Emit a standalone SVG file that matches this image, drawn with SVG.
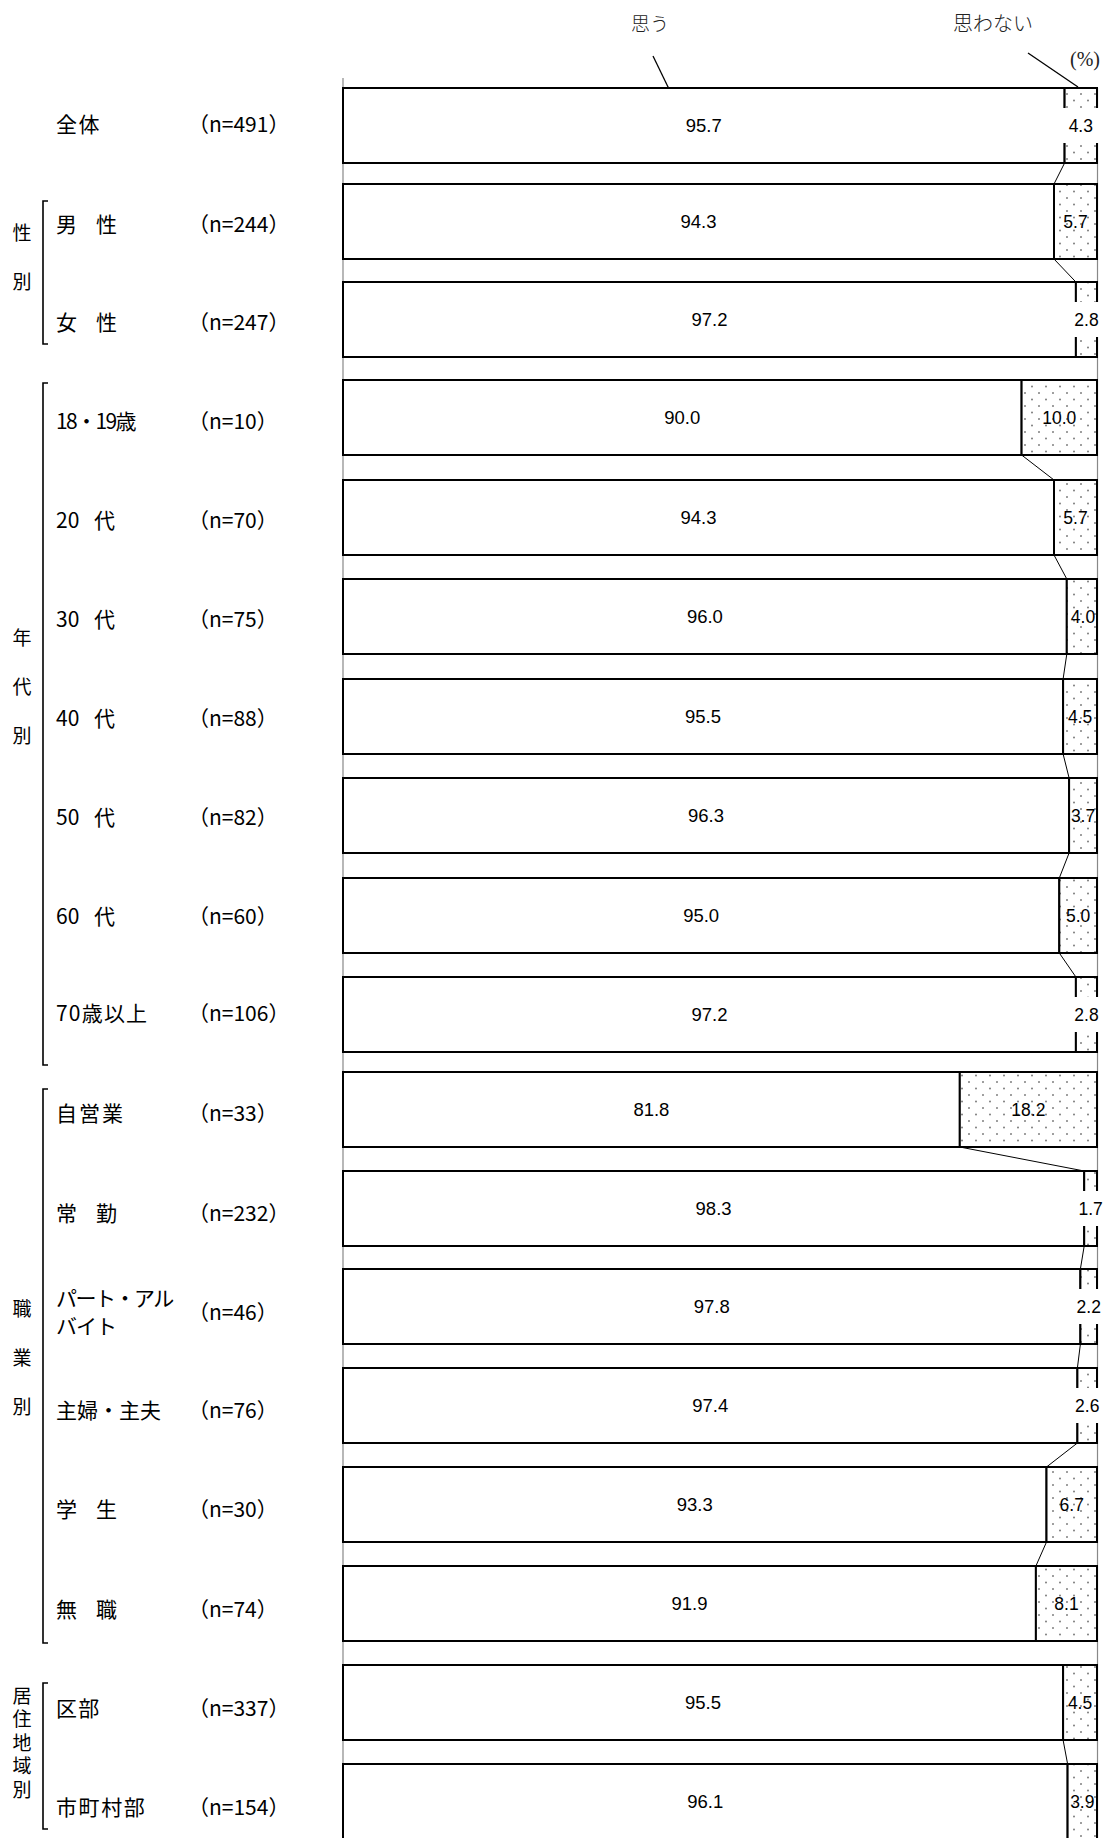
<svg xmlns="http://www.w3.org/2000/svg" width="1108" height="1838" viewBox="0 0 1108 1838">
<style>
.lab{font-family:"Noto Sans CJK JP","Noto Sans",sans-serif;font-size:21px;fill:#000}
.grp{font-family:"Noto Sans CJK JP","Noto Sans",sans-serif;font-size:19px;fill:#000;text-anchor:middle}
.hdr{font-family:"Noto Sans CJK JP","Noto Sans",sans-serif;font-weight:300;fill:#222}
.pct{font-family:"Liberation Serif","Noto Sans CJK JP",serif;font-size:20px;fill:#222}
.num{font-family:"Liberation Sans",Arial,sans-serif;font-size:18.5px;fill:#000;text-anchor:middle}
.sm{font-size:17.5px}
.bar{stroke:#000;stroke-width:2}
.agree{fill:#fff}
.dis{fill:url(#dots)}
.wb{fill:#fff}
.conn{stroke:#000;stroke-width:1;fill:none}
.brk{stroke:#000;stroke-width:1.6;fill:none}
.axis{stroke:#888;stroke-width:1.2;fill:none}
.lead{stroke:#000;stroke-width:1.3;fill:none}
</style>
<defs>
<pattern id="dots" width="14" height="13" patternUnits="userSpaceOnUse">
<rect width="14" height="13" fill="#fff"/>
<circle cx="3" cy="3" r="0.95" fill="#777"/>
<circle cx="10" cy="9.5" r="0.95" fill="#777"/>
</pattern>
</defs>
<rect width="1108" height="1838" fill="#fff"/>

<g id="header">
<text class="hdr" x="631" y="30.5" font-size="19">思う</text>
<text class="hdr" x="953" y="30.5" font-size="20">思わない</text>
<text class="pct" x="1070" y="66">(%)</text>
<line class="lead" x1="653" y1="56" x2="669" y2="89"/>
<line class="lead" x1="1028" y1="53" x2="1078" y2="87"/>
</g>

<g id="axes">
<line class="axis" x1="343" y1="78" x2="343" y2="1838"/>
<line class="axis" x1="1097.5" y1="88" x2="1097.5" y2="1838"/>
</g>

<g id="group-labels">
<text class="grp" x="22" y="240">性</text>
<text class="grp" x="22" y="289">別</text>
<text class="grp" x="22" y="645">年</text>
<text class="grp" x="22" y="694">代</text>
<text class="grp" x="22" y="743">別</text>
<text class="grp" x="22" y="1316">職</text>
<text class="grp" x="22" y="1365">業</text>
<text class="grp" x="22" y="1414">別</text>
<text x="22" y="1686" font-family="Noto Sans CJK JP, Noto Sans, sans-serif" font-size="19" writing-mode="vertical-rl" letter-spacing="4.5" fill="#000">居住地域別</text>
<path class="brk" d="M48 201 H43 V344 H48"/>
<path class="brk" d="M48 383 H43 V1065 H48"/>
<path class="brk" d="M48 1089 H43 V1643 H48"/>
<path class="brk" d="M48 1683 H43 V1829 H48"/>
</g>

<g id="connectors">
<line class="conn" x1="1064.6" y1="163" x2="1054.0" y2="184"/>
<line class="conn" x1="1054.0" y1="259" x2="1075.9" y2="282"/>
<line class="conn" x1="1021.6" y1="455" x2="1054.0" y2="480"/>
<line class="conn" x1="1054.0" y1="555" x2="1066.8" y2="579"/>
<line class="conn" x1="1066.8" y1="654" x2="1063.1" y2="679"/>
<line class="conn" x1="1063.1" y1="754" x2="1069.1" y2="778"/>
<line class="conn" x1="1069.1" y1="853" x2="1059.3" y2="878"/>
<line class="conn" x1="1059.3" y1="953" x2="1075.9" y2="977"/>
<line class="conn" x1="959.8" y1="1147" x2="1084.2" y2="1171"/>
<line class="conn" x1="1084.2" y1="1246" x2="1080.4" y2="1269"/>
<line class="conn" x1="1080.4" y1="1344" x2="1077.4" y2="1368"/>
<line class="conn" x1="1077.4" y1="1443" x2="1046.5" y2="1467"/>
<line class="conn" x1="1046.5" y1="1542" x2="1035.9" y2="1566"/>
<line class="conn" x1="1063.1" y1="1740" x2="1067.6" y2="1764"/>
</g>

<g id="row-zentai">
<rect class="bar agree" x="343" y="88" width="721.6" height="75"/>
<rect class="bar dis" x="1064.6" y="88" width="32.4" height="75"/>
<text class="lab" x="56" y="132" letter-spacing="1.5">全体</text>
<text class="lab" x="188" y="132">（n=491）</text>
<text class="num" x="703.8" y="132.1">95.7</text>
<rect class="wb" x="1062.6" y="108" width="37.4" height="35"/>
<text class="num sm" x="1080.8" y="131.8">4.3</text>
</g>

<g id="row-male">
<rect class="bar agree" x="343" y="184" width="711" height="75"/>
<rect class="bar dis" x="1054" y="184" width="43" height="75"/>
<text class="lab" x="56" y="232">男<tspan x="96">性</tspan></text>
<text class="lab" x="188" y="232">（n=244）</text>
<text class="num" x="698.5" y="228.1">94.3</text>
<text class="num sm" x="1075.5" y="227.8">5.7</text>
</g>

<g id="row-female">
<rect class="bar agree" x="343" y="282" width="732.9" height="75"/>
<rect class="bar dis" x="1075.9" y="282" width="21.1" height="75"/>
<text class="lab" x="56" y="330">女<tspan x="96">性</tspan></text>
<text class="lab" x="188" y="330">（n=247）</text>
<text class="num" x="709.45" y="326.1">97.2</text>
<rect class="wb" x="1072.4" y="302" width="27.6" height="35"/>
<text class="num sm" x="1086.45" y="325.8">2.8</text>
</g>

<g id="row-18-19">
<rect class="bar agree" x="343" y="380" width="678.6" height="75"/>
<rect class="bar dis" x="1021.6" y="380" width="75.4" height="75"/>
<text class="lab" x="56" y="429" letter-spacing="-1.6">18・19歳</text>
<text class="lab" x="188" y="429">（n=10）</text>
<text class="num" x="682.3" y="424.1">90.0</text>
<text class="num sm" x="1059.3" y="423.8">10.0</text>
</g>

<g id="row-20s">
<rect class="bar agree" x="343" y="480" width="711" height="75"/>
<rect class="bar dis" x="1054" y="480" width="43" height="75"/>
<text class="lab" x="56" y="528">20<tspan x="94">代</tspan></text>
<text class="lab" x="188" y="528">（n=70）</text>
<text class="num" x="698.5" y="524.1">94.3</text>
<text class="num sm" x="1075.5" y="523.8">5.7</text>
</g>

<g id="row-30s">
<rect class="bar agree" x="343" y="579" width="723.8" height="75"/>
<rect class="bar dis" x="1066.8" y="579" width="30.2" height="75"/>
<text class="lab" x="56" y="626.5">30<tspan x="94">代</tspan></text>
<text class="lab" x="188" y="626.5">（n=75）</text>
<text class="num" x="704.9" y="623.1">96.0</text>
<text class="num sm" x="1083" y="622.8">4.0</text>
</g>

<g id="row-40s">
<rect class="bar agree" x="343" y="679" width="720.1" height="75"/>
<rect class="bar dis" x="1063.1" y="679" width="33.9" height="75"/>
<text class="lab" x="56" y="726">40<tspan x="94">代</tspan></text>
<text class="lab" x="188" y="726">（n=88）</text>
<text class="num" x="703.05" y="723.1">95.5</text>
<text class="num sm" x="1080.05" y="722.8">4.5</text>
</g>

<g id="row-50s">
<rect class="bar agree" x="343" y="778" width="726.1" height="75"/>
<rect class="bar dis" x="1069.1" y="778" width="27.9" height="75"/>
<text class="lab" x="56" y="825">50<tspan x="94">代</tspan></text>
<text class="lab" x="188" y="825">（n=82）</text>
<text class="num" x="706.05" y="822.1">96.3</text>
<text class="num sm" x="1083.05" y="821.8">3.7</text>
</g>

<g id="row-60s">
<rect class="bar agree" x="343" y="878" width="716.3" height="75"/>
<rect class="bar dis" x="1059.3" y="878" width="37.7" height="75"/>
<text class="lab" x="56" y="923.5">60<tspan x="94">代</tspan></text>
<text class="lab" x="188" y="923.5">（n=60）</text>
<text class="num" x="701.15" y="922.1">95.0</text>
<text class="num sm" x="1078.15" y="921.8">5.0</text>
</g>

<g id="row-70plus">
<rect class="bar agree" x="343" y="977" width="732.9" height="75"/>
<rect class="bar dis" x="1075.9" y="977" width="21.1" height="75"/>
<text class="lab" x="56" y="1021" letter-spacing="1.2">70歳以上</text>
<text class="lab" x="188" y="1021">（n=106）</text>
<text class="num" x="709.45" y="1021.1">97.2</text>
<rect class="wb" x="1072.4" y="997" width="27.6" height="35"/>
<text class="num sm" x="1086.45" y="1020.8">2.8</text>
</g>

<g id="row-jieigyo">
<rect class="bar agree" x="343" y="1072" width="616.8" height="75"/>
<rect class="bar dis" x="959.8" y="1072" width="137.2" height="75"/>
<text class="lab" x="56" y="1121" letter-spacing="2">自営業</text>
<text class="lab" x="188" y="1121">（n=33）</text>
<text class="num" x="651.4" y="1116.1">81.8</text>
<text class="num sm" x="1028.4" y="1115.8">18.2</text>
</g>

<g id="row-jokin">
<rect class="bar agree" x="343" y="1171" width="741.2" height="75"/>
<rect class="bar dis" x="1084.2" y="1171" width="12.8" height="75"/>
<text class="lab" x="56" y="1221">常<tspan x="96">勤</tspan></text>
<text class="lab" x="188" y="1221">（n=232）</text>
<text class="num" x="713.6" y="1215.1">98.3</text>
<rect class="wb" x="1076.6" y="1191" width="27.4" height="35"/>
<text class="num sm" x="1090.6" y="1214.8">1.7</text>
</g>

<g id="row-part">
<rect class="bar agree" x="343" y="1269" width="737.4" height="75"/>
<rect class="bar dis" x="1080.4" y="1269" width="16.6" height="75"/>
<text class="lab" x="56" y="1305.5" font-size="19.5" letter-spacing="-1.5">パート・アル</text>
<text class="lab" x="56" y="1333.5" font-size="19.5" letter-spacing="-1">バイト</text>
<text class="lab" x="188" y="1320">（n=46）</text>
<text class="num" x="711.7" y="1313.1">97.8</text>
<rect class="wb" x="1074.7" y="1289" width="27.3" height="35"/>
<text class="num sm" x="1088.7" y="1312.8">2.2</text>
</g>

<g id="row-shufu">
<rect class="bar agree" x="343" y="1368" width="734.4" height="75"/>
<rect class="bar dis" x="1077.4" y="1368" width="19.6" height="75"/>
<text class="lab" x="56" y="1418">主婦・主夫</text>
<text class="lab" x="188" y="1418">（n=76）</text>
<text class="num" x="710.2" y="1412.1">97.4</text>
<rect class="wb" x="1073.2" y="1388" width="27.8" height="35"/>
<text class="num sm" x="1087.2" y="1411.8">2.6</text>
</g>

<g id="row-gakusei">
<rect class="bar agree" x="343" y="1467" width="703.5" height="75"/>
<rect class="bar dis" x="1046.5" y="1467" width="50.5" height="75"/>
<text class="lab" x="56" y="1517">学<tspan x="96">生</tspan></text>
<text class="lab" x="188" y="1517">（n=30）</text>
<text class="num" x="694.75" y="1511.1">93.3</text>
<text class="num sm" x="1071.75" y="1510.8">6.7</text>
</g>

<g id="row-mushoku">
<rect class="bar agree" x="343" y="1566" width="692.9" height="75"/>
<rect class="bar dis" x="1035.9" y="1566" width="61.1" height="75"/>
<text class="lab" x="56" y="1617">無<tspan x="96">職</tspan></text>
<text class="lab" x="188" y="1617">（n=74）</text>
<text class="num" x="689.45" y="1610.1">91.9</text>
<text class="num sm" x="1066.45" y="1609.8">8.1</text>
</g>

<g id="row-kubu">
<rect class="bar agree" x="343" y="1665" width="720.1" height="75"/>
<rect class="bar dis" x="1063.1" y="1665" width="33.9" height="75"/>
<text class="lab" x="56" y="1716" letter-spacing="1.2">区部</text>
<text class="lab" x="188" y="1716">（n=337）</text>
<text class="num" x="703.05" y="1709.1">95.5</text>
<text class="num sm" x="1080.05" y="1708.8">4.5</text>
</g>

<g id="row-shichoson">
<rect class="bar agree" x="343" y="1764" width="724.6" height="75"/>
<rect class="bar dis" x="1067.6" y="1764" width="29.4" height="75"/>
<text class="lab" x="56" y="1815" letter-spacing="1.6">市町村部</text>
<text class="lab" x="188" y="1815">（n=154）</text>
<text class="num" x="705.3" y="1808.1">96.1</text>
<text class="num sm" x="1082.3" y="1807.8">3.9</text>
</g>
</svg>
